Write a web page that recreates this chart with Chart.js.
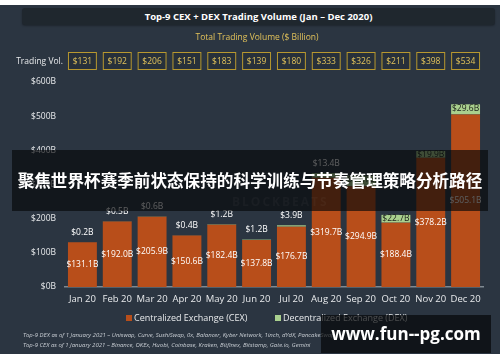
<!DOCTYPE html>
<html><head><meta charset="utf-8">
<script src="https://cdn.jsdelivr.net/npm/chart.js@4.4.1/dist/chart.umd.min.js"></script>
<style>
html,body{margin:0;padding:0;background:#fff;width:500px;height:362px;overflow:hidden;font-family:"Open Sans",sans-serif}
#bg{position:absolute;left:0;top:5px;width:500px;height:349px;background:#2b3541}
#titlebox{position:absolute;left:22px;top:8px;width:473px;height:17px;background:#1f272e;border-radius:3px;color:#fff;font-weight:bold;font-size:9.5px;line-height:17px;text-align:center;box-shadow:0 1px 2px rgba(0,0,0,0.3)}
#wrap{position:absolute;left:0;top:0;width:500px;height:362px}
#foot{position:absolute;left:23px;top:330px;color:#c9ced4;font-style:italic;font-size:6px;line-height:10px;white-space:nowrap}
#banner{position:absolute;left:12px;top:150px;width:476px;height:61px;background:rgba(6,7,9,0.66);color:#fff;font-family:"Noto Sans CJK SC",sans-serif;font-weight:bold;font-size:16.6px;line-height:61px;text-align:center;white-space:nowrap;z-index:5}
#wm{position:absolute;left:321px;top:315px;width:170px;height:38px;background:rgba(6,7,9,0.7);color:#fff;font-family:"Open Sans",sans-serif;font-weight:bold;font-size:17px;line-height:38px;text-align:center;z-index:5;white-space:nowrap}
#bb{position:absolute;left:232px;top:193px;color:rgba(255,255,255,0.035);font-weight:bold;font-size:12px;letter-spacing:2px;z-index:6}
</style></head>
<body>
<div id="bg"></div>
<div id="titlebox">Top-9 CEX + DEX Trading Volume (Jan – Dec 2020)</div>
<div id="wrap"><canvas id="c" width="500" height="362"></canvas></div>
<div id="foot">Top-9 DEX as of 1 January 2021 – Uniswap, Curve, SushiSwap, 0x, Balancer, Kyber Network, 1inch, dYdX, PancakeSwap<br>Top-9 CEX as of 1 January 2021 – Binance, OKEx, Huobi, Coinbase, Kraken, Bitfinex, Bitstamp, Gate.io, Gemini</div>
<div id="banner">聚焦世界杯赛季前状态保持的科学训练与节奏管理策略分析路径</div>
<div id="bb">BLOCKBEATS</div>
<div id="wm">www.fun--pg.com</div>
<script>
const months = ['Jan 20','Feb 20','Mar 20','Apr 20','May 20','Jun 20','Jul 20','Aug 20','Sep 20','Oct 20','Nov 20','Dec 20'];
const cex = [131.1,192.0,205.9,150.6,182.4,137.8,176.7,319.7,294.9,188.4,378.2,505.1];
const dex = [0.2,0.5,0.6,0.4,1.2,1.2,3.9,13.4,31.1,22.7,19.9,29.6];
const totalVol = ['$131','$192','$206','$151','$183','$139','$180','$333','$326','$211','$398','$534'];
const yTicks = [0,100,200,300,400,500,600];

const CEX_COLOR = '#b84e1a';
const DEX_COLOR = '#a9d08e';
const GOLD = '#b8982f';
const GOLD_TEXT = '#e2c25a';

const labelsPlugin = {
  id: 'labels',
  afterDatasetsDraw(chart) {
    const ctx = chart.ctx;
    const m0 = chart.getDatasetMeta(0), m1 = chart.getDatasetMeta(1);
    ctx.save();
    ctx.textAlign = 'center';
    ctx.textBaseline = 'middle';
    ctx.font = '8.5px "Open Sans"';
    months.forEach((m, i) => {
      const b0 = m0.data[i], b1 = m1.data[i];
      ctx.fillStyle = '#ffffff';
      ctx.fillText('$' + cex[i].toFixed(1) + 'B', b0.x, (b0.y + b0.base) / 2);
      const lbl = '$' + dex[i].toFixed(1) + 'B';
      if (dex[i] >= 15) {
        ctx.fillStyle = '#1b1f1a';
        ctx.fillText(lbl, b1.x, b1.y + 4);
      } else {
        ctx.fillStyle = '#ffffff';
        ctx.fillText(lbl, b1.x, b1.y - 10);
      }
      const w = b0.width;
      ctx.fillStyle = '#27303a';
      ctx.fillRect(b0.x - w / 2, 52.5, w, 17);
      ctx.strokeStyle = GOLD;
      ctx.lineWidth = 1;
      ctx.strokeRect(b0.x - w / 2 + 0.5, 52.5, w - 1, 17);
      ctx.fillStyle = GOLD_TEXT;
      ctx.font = '8.5px "Open Sans"';
      ctx.fillText(totalVol[i], b0.x, 61.5);
    });
    ctx.textAlign = 'right';
    ctx.fillStyle = '#e8eaec';
    ctx.fillText('Trading Vol.', 63, 61.5);
    ctx.textAlign = 'center';
    ctx.fillStyle = GOLD_TEXT;
    ctx.fillText('Total Trading Volume ($ Billion)', 257, 38);
    ctx.textAlign = 'left';
    ctx.font = '9px "Open Sans"';
    ctx.fillStyle = CEX_COLOR;
    ctx.fillRect(126, 315, 6, 6);
    ctx.fillStyle = '#e8eaec';
    ctx.fillText('Centralized Exchange (CEX)', 134, 318.5);
    ctx.fillStyle = DEX_COLOR;
    ctx.fillRect(275, 315, 6, 6);
    ctx.fillStyle = '#e8eaec';
    ctx.fillText('Decentralized Exchange (DEX)', 283, 318.5);
    ctx.restore();
  }
};

new Chart(document.getElementById('c'), {
  type: 'bar',
  data: {
    labels: months,
    datasets: [
      { label: 'Centralized Exchange (CEX)', data: cex, backgroundColor: CEX_COLOR, borderWidth: 0 },
      { label: 'Decentralized Exchange (DEX)', data: dex, backgroundColor: DEX_COLOR, borderWidth: 0 }
    ]
  },
  options: {
    responsive: false,
    animation: false,
    layout: { padding: { left: 0, right: 17, top: 82, bottom: 0 } },
    plugins: { legend: { display: false }, tooltip: { enabled: false } },
    datasets: { bar: { categoryPercentage: 1, barPercentage: 0.83 } },
    scales: {
      x: {
        stacked: true,
        grid: { display: false, drawTicks: false },
        border: { display: true, color: '#7f8992', width: 1.5 },
        ticks: { color: '#e8eaec', font: { family: 'Open Sans', size: 9.5 }, padding: 7, maxRotation: 0, autoSkip: false },
        afterFit(s) { s.height = 75; }
      },
      y: {
        stacked: true,
        min: 0, max: 600,
        afterBuildTicks(s) { s.ticks = yTicks.map(v => ({ value: v })); },
        grid: { display: false, drawTicks: false },
        border: { display: false },
        ticks: { color: '#e8eaec', font: { family: 'Open Sans', size: 8.5 }, padding: 9,
          callback: v => '$' + v + 'B' },
        afterFit(s) { s.width = 65; }
      }
    }
  },
  plugins: [labelsPlugin]
});
</script>
</body></html>
